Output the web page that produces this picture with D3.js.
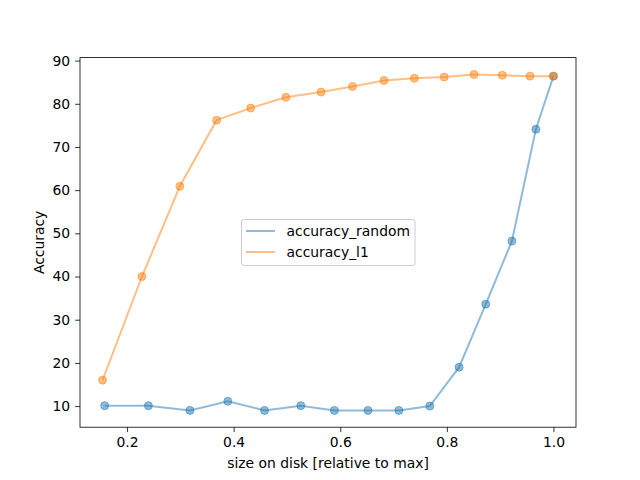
<!DOCTYPE html>
<html>
<head>
<meta charset="utf-8">
<script src="https://cdn.jsdelivr.net/npm/d3@7"></script>
<style>
  body { margin:0; background:#fff; }
  text { font-family: "DejaVu Sans", sans-serif; }
</style>
</head>
<body>
<div class="canvas"></div>
<script>
// values
const sizeRandom = [0.158, 0.240, 0.318, 0.389, 0.458, 0.526, 0.589, 0.652, 0.710, 0.768, 0.823, 0.873, 0.922, 0.967, 1.0]
const accRandom  = [10.1, 10.1, 9.0, 11.1, 9.0, 10.1, 9.0, 9.0, 9.0, 10.0, 19.0, 33.6, 48.2, 74.1, 86.4]
const sizeL1 = [0.154, 0.228, 0.299, 0.368, 0.432, 0.498, 0.564, 0.623, 0.682, 0.739, 0.795, 0.851, 0.904, 0.956, 1.0]
const accL1  = [16.0, 40.0, 60.9, 76.2, 79.0, 81.5, 82.7, 84.0, 85.4, 85.9, 86.2, 86.8, 86.6, 86.4, 86.4]
const seriesNames = ["accuracy_random", "accuracy_l1"]
const xTicks = [0.2, 0.4, 0.6, 0.8, 1.0]
const yTicks = [10, 20, 30, 40, 50, 60, 70, 80, 90]

const dim = { width:640, height:480 }
const margin = { left:80, right:64, top:57.6, bottom:52.8 }
const w = dim.width - margin.left - margin.right
const h = dim.height - margin.top - margin.bottom
const color = d3.scaleOrdinal().domain(seriesNames).range(["#1f77b4", "#ff7f0e"])

const series = [
  { name: seriesNames[0], pts: sizeRandom.map((x, i) => ({ x, y: accRandom[i] })) },
  { name: seriesNames[1], pts: sizeL1.map((x, i) => ({ x, y: accL1[i] })) }
]

// 5% padding like matplotlib autoscale
const pad = (ext) => { const r = ext[1] - ext[0]; return [ext[0] - r*0.05, ext[1] + r*0.05] }
const allX = sizeRandom.concat(sizeL1)
const allY = accRandom.concat(accL1)
const x = d3.scaleLinear().domain(pad(d3.extent(allX))).range([0, w])
const y = d3.scaleLinear().domain(pad(d3.extent(allY))).range([h, 0])

const svg = d3.select(".canvas").append("svg").attr("width", dim.width).attr("height", dim.height)
const graph = svg.append("g").attr("transform", `translate(${margin.left},${margin.top})`)

const line = d3.line().x(d => x(d.x)).y(d => y(d.y))

series.forEach(s => {
  graph.append("path")
    .datum(s.pts)
    .attr("d", line)
    .attr("fill", "none")
    .attr("stroke", color(s.name))
    .attr("stroke-opacity", 0.5)
    .attr("stroke-width", 2)
  graph.append("g").selectAll("circle").data(s.pts).enter()
    .append("circle")
    .attr("cx", d => x(d.x))
    .attr("cy", d => y(d.y))
    .attr("r", 4)
    .attr("fill", color(s.name))
    .attr("fill-opacity", 0.5)
    .attr("stroke", color(s.name))
    .attr("stroke-opacity", 0.5)
    .attr("stroke-width", 1)
})

// axes
const xAxis = d3.axisBottom(x).tickValues(xTicks).tickFormat(d3.format(".1f")).tickSize(4.9).tickPadding(4.9)
const yAxis = d3.axisLeft(y).tickValues(yTicks).tickFormat(d3.format("d")).tickSize(4.9).tickPadding(4.9)
const gx = graph.append("g").attr("transform", `translate(0,${h})`).call(xAxis)
const gy = graph.append("g").call(yAxis)
;[gx, gy].forEach(g => {
  g.select(".domain").remove()
  g.selectAll(".tick line").attr("stroke", "#000").attr("stroke-width", 0.8)
  g.selectAll(".tick text").attr("font-size", "13.9px").attr("fill", "#000").style("font-family", "DejaVu Sans")
})

graph.append("rect")
  .attr("width", w).attr("height", h)
  .attr("fill", "none").attr("stroke", "#000").attr("stroke-width", 0.8)

svg.append("text")
  .attr("x", margin.left + w/2).attr("y", 468)
  .attr("text-anchor", "middle").attr("font-size", "13.9px")
  .text("size on disk [relative to max]")

svg.append("text")
  .attr("transform", `translate(44,${margin.top + h/2}) rotate(-90)`)
  .attr("text-anchor", "middle").attr("font-size", "13.9px")
  .text("Accuracy")

// legend
const legendGroup = svg.append("g").attr("transform", "translate(241.5,219.5)")
legendGroup.append("rect")
  .attr("width", 173.5).attr("height", 46)
  .attr("rx", 2.5)
  .attr("fill", "#fff").attr("fill-opacity", 0.8)
  .attr("stroke", "#cccccc").attr("stroke-width", 1)
const items = legendGroup.selectAll("g.item").data(seriesNames).enter()
  .append("g").attr("class", "item")
  .attr("transform", (d, i) => `translate(0,${11.5 + i*21})`)
items.append("line")
  .attr("x1", 4.5).attr("x2", 33.5)
  .attr("stroke", d => color(d)).attr("stroke-opacity", 0.5).attr("stroke-width", 2)
items.append("text")
  .attr("x", 45).attr("dy", "0.36em")
  .attr("font-size", "13.9px")
  .text(d => d)
</script>
</body>
</html>
